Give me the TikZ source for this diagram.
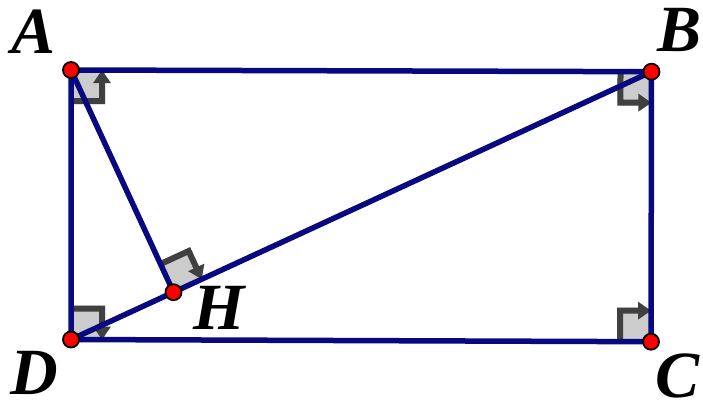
\documentclass[tikz,border=0pt]{standalone}
\usepackage{fontspec}
\setmainfont{Liberation Serif}
\usetikzlibrary{calc,arrows.meta}
\definecolor{navyline}{RGB}{8,8,128}
\definecolor{markgrey}{RGB}{204,204,204}
\definecolor{markdark}{RGB}{64,64,64}
\newcommand\rtmark[3]{%
  \coordinate (m1) at ($(#1)!34pt!(#2)$);
  \coordinate (m2) at ($(#1)!34pt!(#3)$);
  \coordinate (mc) at ($(m1)+(m2)-(#1)$);
  \coordinate (n1) at ($(#1)!31pt!(#2)$);
  \coordinate (n2) at ($(#1)!31pt!(#3)$);
  \coordinate (nc) at ($(n1)+(n2)-(#1)$);
  \fill[markgrey] (#1) -- (m1) -- (mc) -- (m2) -- cycle;
  \draw[markline] (n1) -- (nc) -- (n2);
}
\begin{document}
\begin{tikzpicture}[x=1pt,y=-1pt,
  edge/.style={draw=navyline,line width=5.5pt,line cap=round,line join=round},
  markline/.style={draw=markdark,line width=6pt,line join=miter,
     -{Triangle[length=13pt,width=17pt]}},
  dot/.style={circle,fill=red,draw=black,line width=1.8pt,minimum size=16pt,inner sep=0pt},
  lbl/.style={inner sep=0pt,font=\fontsize{66}{66}\selectfont\bfseries\itshape}]
\useasboundingbox (0,0) rectangle (703,404);
\coordinate (A) at (71,70);
\coordinate (B) at (651.5,71.7);
\coordinate (C) at (651,341.7);
\coordinate (D) at (71,339.5);
\coordinate (H) at ($(D)!(A)!(B)$);
\rtmark{A}{D}{B}
\rtmark{B}{A}{C}
\rtmark{C}{D}{B}
\rtmark{D}{A}{C}
\rtmark{H}{A}{B}
\draw[edge] (A) -- (B) -- (C) -- (D) -- cycle;
\draw[edge] (D) -- (B);
\draw[edge] (A) -- (H);
\node[dot] (pA) at (A) {};
\node[dot] (pB) at (B) {};
\node[dot] (pC) at (C) {};
\node[dot] (pD) at (D) {};
\node[dot] (pH) at (H) {};
\node[lbl] (lA) at (34,32) {A};
\node[lbl] (lB) at (679,30) {B};
\node[lbl] (lC) at (677,376) {C};
\node[lbl] (lD) at (34,373) {D};
\node[lbl] (lH) at (219,308) {H};
\end{tikzpicture}
\end{document}
